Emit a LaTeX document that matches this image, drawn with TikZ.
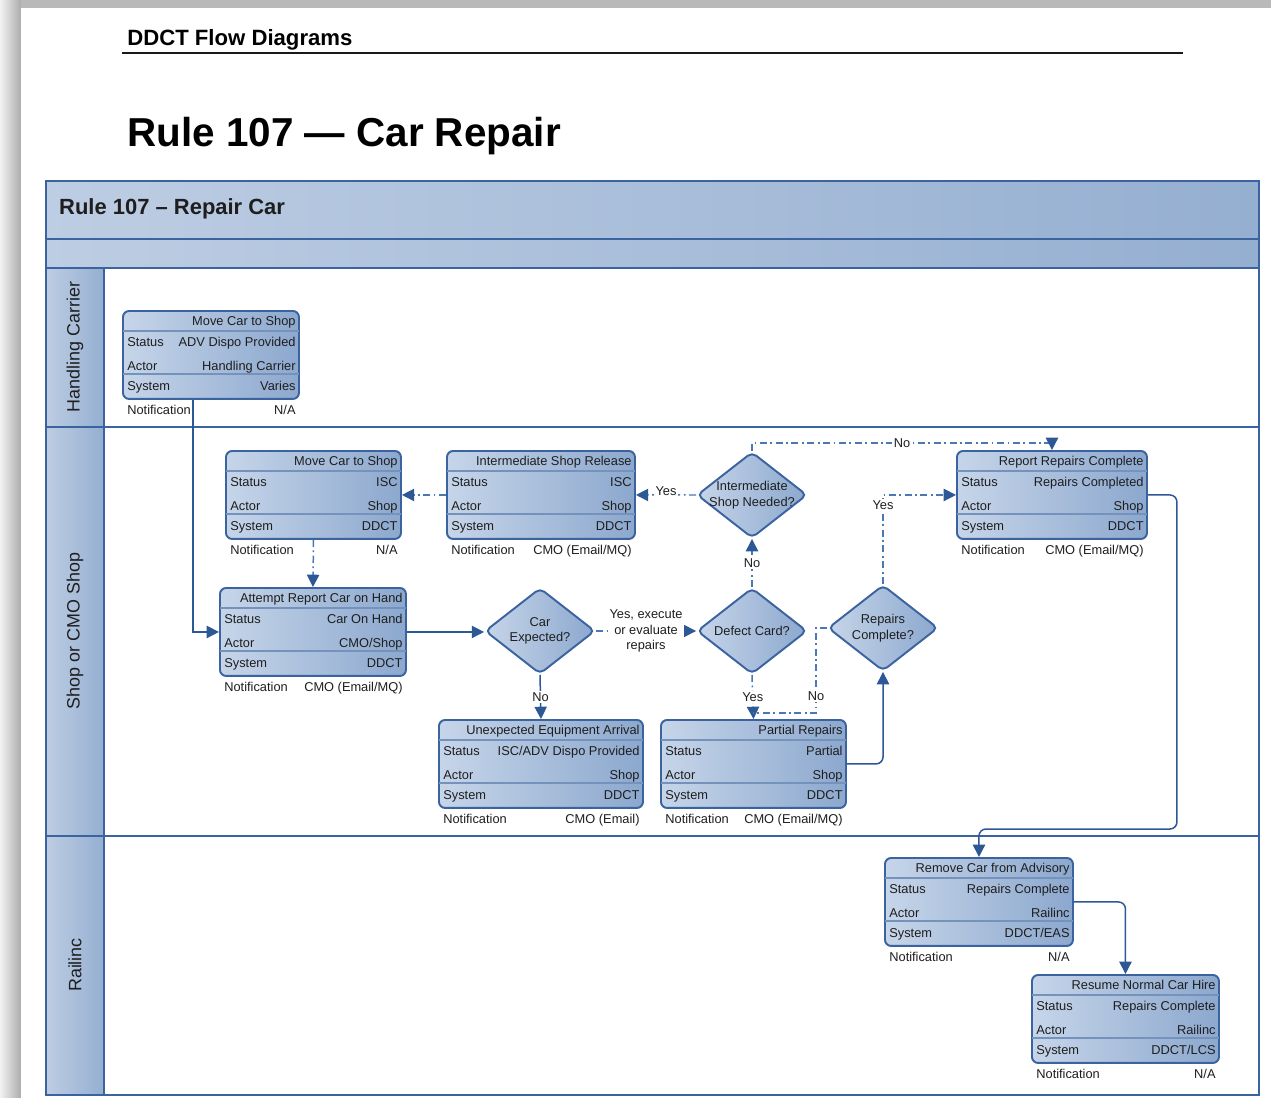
\documentclass[tikz,border=0pt]{standalone}
\usepackage{fontspec}
\setmainfont{Liberation Sans}
\usetikzlibrary{shapes.geometric, arrows.meta, positioning, calc}

\definecolor{edgeblue}{HTML}{3A63A0}
\definecolor{flowblue}{HTML}{2D5896}
\definecolor{dashblue}{HTML}{4A77B6}
\definecolor{bandlight}{HTML}{BDCDE3}
\definecolor{banddark}{HTML}{95AFD1}
\definecolor{boxlight}{HTML}{C6D5E9}
\definecolor{boxdark}{HTML}{8CA8CE}
\definecolor{inkgray}{HTML}{1E1E1E}

\tikzset{
  cardbox/.style = {rectangle, draw=edgeblue, line width=1.1pt, rounded corners=3.5pt, left color=boxlight, right color=boxdark, minimum height=1.76cm, inner sep=0pt},
  rowline/.style = {draw=edgeblue!70, line width=0.6pt},
  celltext/.style = {font=\fontsize{7.3}{8.5}\selectfont, text=inkgray, inner sep=0pt, text height=5.4pt, text depth=1.5pt},
  decision/.style = {diamond, draw=edgeblue, line width=1.1pt, rounded corners=3pt, left color=boxlight, right color=boxdark, minimum width=2.2cm, minimum height=1.72cm, inner sep=0pt},
  dtext/.style = {font=\fontsize{7.3}{8.8}\selectfont, text=inkgray, align=center, inner sep=0pt},
  flow/.style = {draw=flowblue, line width=0.85pt, -{Triangle[length=7pt,width=7pt,color=flowblue]}},
  dflow/.style = {flow, draw=dashblue, dash pattern=on 4pt off 2pt on 1pt off 2pt},
  lbl/.style = {font=\fontsize{7.3}{8.8}\selectfont, text=inkgray, fill=white, inner sep=1pt, align=center},
  band/.style = {draw=edgeblue, line width=1.1pt, shade, left color=bandlight, right color=banddark},
  lanetext/.style = {rotate=90, font=\fontsize{10.2}{12}\selectfont, text=inkgray}
}

% box with title, status/actor/system rows and notification line
\newcommand{\cardbox}[9]{%
  \node[cardbox, anchor=north west, minimum width={#4*0.02cm}] (#1) at (#2,#3) {};
  \draw[rowline] ($(#1.north west)+(1,21)$) -- ($(#1.north east)+(-1,21)$);
  \draw[rowline] ($(#1.north west)+(1,64)$) -- ($(#1.north east)+(-1,64)$);
  \node[celltext, anchor=east] (#1-title) at ($(#1.north east)+(-4,12.5)$) {#5};
  \node[celltext, anchor=west] (#1-sk) at ($(#1.north west)+(5,33)$) {Status};
  \node[celltext, anchor=east] (#1-sv) at ($(#1.north east)+(-4,33)$) {#6};
  \node[celltext, anchor=west] (#1-ak) at ($(#1.north west)+(5,57)$) {Actor};
  \node[celltext, anchor=east] (#1-av) at ($(#1.north east)+(-4,57)$) {#7};
  \node[celltext, anchor=west] (#1-yk) at ($(#1.north west)+(5,77)$) {System};
  \node[celltext, anchor=east] (#1-yv) at ($(#1.north east)+(-4,77)$) {#8};
  \node[celltext, anchor=west] (#1-nk) at ($(#1.south west)+(5,11)$) {Notification};
  \node[celltext, anchor=east] (#1-nv) at ($(#1.south east)+(-4,11)$) {#9};
}

\begin{document}
\begin{tikzpicture}[x=0.02cm, y=-0.02cm]
  \useasboundingbox (0,0) rectangle (1271,1098);

  % page with shadow
  \fill[gray!55] (0,0) rectangle (1271,1098);
  \shade[left color=gray!10, right color=gray!65] (0,0) rectangle (21,1098);
  \fill[white] (21,8) rectangle (1271,1098);

  % page header
  \node[anchor=base west, inner sep=0pt, font=\bfseries\fontsize{12.6}{14}\selectfont] (doctitle) at (127,46) {DDCT Flow Diagrams};
  \draw[line width=1.1pt, gray!20!black] (122,53) -- (1183,53);
  \node[anchor=base west, inner sep=0pt, font=\bfseries\fontsize{23}{26}\selectfont] (pagetitle) at (127,147) {Rule 107 — Car Repair};

  % pool and lanes
  \path[band] (46,181) rectangle (1259,239);
  \path[band] (46,239) rectangle (1259,268);
  \draw[edgeblue, line width=1.1pt] (46,268) rectangle (1259,1095);
  \path[band] (46,268) rectangle (104,427);
  \path[band] (46,427) rectangle (104,836);
  \path[band] (46,836) rectangle (104,1095);
  \draw[edgeblue, line width=1.1pt] (104,427) -- (1259,427);
  \draw[edgeblue, line width=1.1pt] (104,836) -- (1259,836);

  \node[anchor=west, text=inkgray, font=\bfseries\fontsize{12.5}{14}\selectfont] (pooltitle) at (53,209) {Rule 107 – Repair Car};
  \node[lanetext] (lanehc) at (75,347) {Handling Carrier};
  \node[lanetext] (laneshop) at (75,631) {Shop or CMO Shop};
  \node[lanetext] (lanerail) at (75,965) {Railinc};

  % process boxes
  \cardbox{hcmove}{122}{310}{176}{Move Car to Shop}{ADV Dispo Provided}{Handling Carrier}{Varies}{N/A}
  \cardbox{shopmove}{225}{450}{175}{Move Car to Shop}{ISC}{Shop}{DDCT}{N/A}
  \cardbox{isrelease}{446}{450}{188}{Intermediate Shop Release}{ISC}{Shop}{DDCT}{CMO (Email/MQ)}
  \cardbox{report}{956}{450}{190}{Report Repairs Complete}{Repairs Completed}{Shop}{DDCT}{CMO (Email/MQ)}
  \cardbox{attempt}{219}{587}{186}{Attempt Report Car on Hand}{Car On Hand}{CMO/Shop}{DDCT}{CMO (Email/MQ)}
  \cardbox{unexp}{438}{719}{204}{Unexpected Equipment Arrival}{ISC/ADV Dispo Provided}{Shop}{DDCT}{CMO (Email)}
  \cardbox{partial}{660}{719}{185}{Partial Repairs}{Partial}{Shop}{DDCT}{CMO (Email/MQ)}
  \cardbox{remove}{884}{857}{188}{Remove Car from Advisory}{Repairs Complete}{Railinc}{DDCT/EAS}{N/A}
  \cardbox{resume}{1031}{974}{187}{Resume Normal Car Hire}{Repairs Complete}{Railinc}{DDCT/LCS}{N/A}

  % decisions
  \node[decision] (carexp) at (540,631) {};
  \node[dtext] (carexp-t) at (carexp) {Car\\Expected?};
  \node[decision] (defect) at (752,631) {};
  \node[dtext] (defect-t) at (defect) {Defect Card?};
  \node[decision] (shopneed) at (752,495) {};
  \node[dtext] (shopneed-t) at (shopneed) {Intermediate\\Shop Needed?};
  \node[decision] (repdone) at (883,628) {};
  \node[dtext] (repdone-t) at (repdone) {Repairs\\Complete?};

  % connections
  \draw[flow] ($(hcmove.south west)+(71,0)$) |- (attempt.west);
  \draw[dflow] (shopmove.south) -- (attempt.north);
  \draw[flow] (attempt.east) -- (attempt.east -| carexp.west);
  \draw[flow] (carexp.south) -- node[lbl] {No} (unexp.north);
  \draw[dflow] (carexp.east) -- node[lbl] {Yes, execute\\or evaluate\\repairs} (defect.west);
  \draw[dflow] (defect.north) -- node[lbl] {No} (shopneed.south);
  \draw[dflow] (shopneed.west) -- node[lbl, yshift=2pt] {Yes} (isrelease.east);
  \draw[dflow] (isrelease.west) -- (shopmove.east);
  \draw[dflow] (shopneed.north) -- ++(0,-8) -| node[lbl, pos=0.25] {No} (report.north);
  \draw[dflow] (defect.south) -- node[lbl] {Yes} (partial.north);
  \draw[dflow, -] (repdone.west) -- ++(-11,0) |- node[lbl, pos=0.4] {No} ($(partial.north)+(0,-6)$);
  \draw[flow, rounded corners=4pt] (partial.east) -| (repdone.south);
  \draw[dflow] (repdone.north) |- node[lbl, pos=0.44] {Yes} (report.west);
  \draw[flow, rounded corners=4pt] (report.east) -- ++(29,0) |- ($(remove.north)+(0,-28)$) -- (remove.north);
  \draw[flow, rounded corners=4pt] (remove.east) -| (resume.north);

\end{tikzpicture}
\end{document}
